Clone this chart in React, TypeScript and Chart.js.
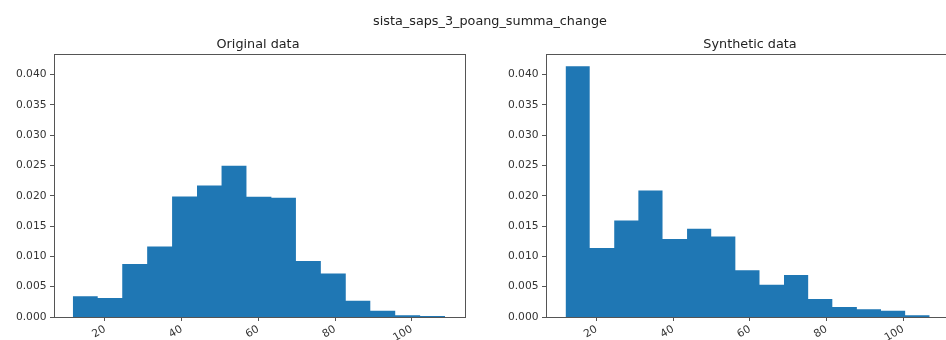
import React, { useEffect, useRef } from 'react';
import { Chart, registerables } from 'chart.js';

Chart.register(...registerables);

const FONT = '"DejaVu Sans", "Liberation Sans", sans-serif';
const BAR_COLOR = '#1f77b4';

const suptitle = 'sista_saps_3_poang_summa_change';
const originalTitle = 'Original data';
const syntheticTitle = 'Synthetic data';

const originalEdges = [11.6, 18.1, 24.5, 31.0, 37.5, 44.0, 50.4, 56.9, 63.4, 69.8, 76.3, 82.8, 89.2, 95.7, 102.2, 108.7];
const originalDensity = [0.00342, 0.00314, 0.00876, 0.01163, 0.01989, 0.02171, 0.02496, 0.01983, 0.01967, 0.00926, 0.00716, 0.0027, 0.00105, 0.0003, 0.00017];

const syntheticEdges = [11.9, 18.2, 24.6, 30.9, 37.2, 43.6, 49.9, 56.2, 62.5, 68.9, 75.2, 81.5, 87.9, 94.2, 100.5, 106.9];
const syntheticDensity = [0.04138, 0.0114, 0.01592, 0.02088, 0.01289, 0.01455, 0.01328, 0.00771, 0.00534, 0.00694, 0.00298, 0.00165, 0.00127, 0.00105, 0.0003];

const xTickStep = 20;
const yTickStep = 0.005;
const yMax = 0.0434;

function stepPoints(edges: number[], values: number[]) {
  const pts: { x: number; y: number }[] = [{ x: edges[0], y: 0 }];
  values.forEach((v, i) => pts.push({ x: edges[i], y: v }));
  pts.push({ x: edges[edges.length - 1], y: 0 });
  return pts;
}

const framePlugin = {
  id: 'frame',
  afterDraw(chart: any) {
    const { ctx, chartArea: a } = chart;
    ctx.save();
    ctx.strokeStyle = '#555';
    ctx.lineWidth = 1;
    ctx.strokeRect(Math.round(a.left) + 0.5, Math.round(a.top) + 0.5, Math.round(a.right - a.left), Math.round(a.bottom - a.top));
    ctx.restore();
  },
};

function Hist(props: {
  edges: number[];
  values: number[];
  xMin: number;
  xMax: number;
  yAxisWidth: number;
  padRight: number;
  width: number;
}) {
  const ref = useRef<HTMLCanvasElement | null>(null);
  useEffect(() => {
    if (!ref.current) return;
    const chart = new Chart(ref.current, {
      type: 'line',
      data: {
        datasets: [
          {
            data: stepPoints(props.edges, props.values),
            stepped: 'before',
            fill: 'origin',
            backgroundColor: BAR_COLOR,
            borderColor: BAR_COLOR,
            borderWidth: 0,
            pointRadius: 0,
          } as any,
        ],
      },
      plugins: [framePlugin],
      options: {
        animation: false,
        responsive: false,
        maintainAspectRatio: false,
        events: [],
        layout: { padding: { left: 0, right: props.padRight, top: 54, bottom: 0 } },
        plugins: { legend: { display: false }, tooltip: { enabled: false }, title: { display: false } },
        scales: {
          x: {
            type: 'linear',
            min: props.xMin,
            max: props.xMax,
            afterFit: (s: any) => {
              s.height = 23;
              s.paddingLeft = 0;
              s.paddingRight = 0;
            },
            border: { display: false },
            grid: { display: true, drawOnChartArea: false, drawTicks: true, tickLength: 4, color: '#555' },
            ticks: {
              stepSize: xTickStep,
              includeBounds: false,
              minRotation: 30,
              maxRotation: 30,
              padding: 2,
              color: '#333',
              font: { family: FONT, size: 10.7 },
              callback: (v: any) => String(v),
            },
          },
          y: {
            type: 'linear',
            min: 0,
            max: yMax,
            afterFit: (s: any) => {
              s.width = props.yAxisWidth;
              s.paddingTop = 0;
              s.paddingBottom = 0;
            },
            border: { display: false },
            grid: { display: true, drawOnChartArea: false, drawTicks: true, tickLength: 4, color: '#555' },
            ticks: {
              stepSize: yTickStep,
              includeBounds: false,
              padding: 3.5,
              color: '#333',
              font: { family: FONT, size: 10.7 },
              callback: (v: any) => Number(v).toFixed(3),
            },
          },
        },
      },
    });
    return () => chart.destroy();
  }, []);
  return <canvas ref={ref} width={props.width} height={340} style={{ display: 'block', width: props.width, height: 340 }} />;
}

const titleStyle: React.CSSProperties = {
  position: 'absolute',
  width: 400,
  textAlign: 'center',
  fontFamily: FONT,
  fontSize: 12.8,
  lineHeight: '15px',
  color: '#222',
  whiteSpace: 'nowrap',
};

export default function App() {
  return (
    <div style={{ position: 'fixed', left: 0, top: 0, width: 946, height: 340, overflow: 'hidden', background: '#fff' }}>
      <div style={{ position: 'absolute', left: 0, top: 0, width: 480 }}>
        <Hist edges={originalEdges} values={originalDensity} xMin={6.7} xMax={113.9} yAxisWidth={54} padRight={15} width={480} />
      </div>
      <div style={{ position: 'absolute', left: 480, top: 0, width: 490 }}>
        <Hist edges={syntheticEdges} values={syntheticDensity} xMin={6.8} xMax={112.2} yAxisWidth={66} padRight={20} width={490} />
      </div>
      <div style={{ ...titleStyle, left: 490 - 200, top: 13 }}>{suptitle}</div>
      <div style={{ ...titleStyle, left: 258 - 200, top: 35.5 }}>{originalTitle}</div>
      <div style={{ ...titleStyle, left: 750 - 200, top: 35.5 }}>{syntheticTitle}</div>
    </div>
  );
}
